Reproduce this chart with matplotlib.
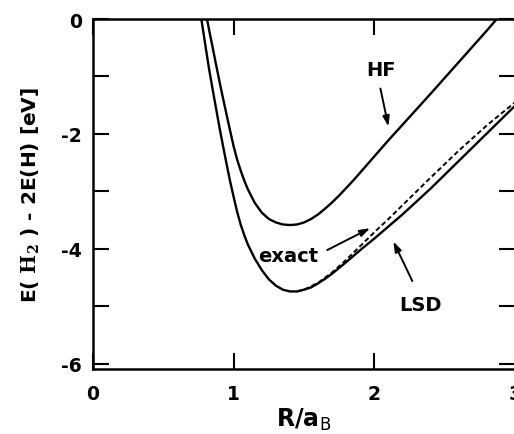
import matplotlib
matplotlib.use("Agg")
from matplotlib import pyplot as plt
import numpy as np

plt.rcParams['mathtext.fontset'] = 'custom'
plt.rcParams['mathtext.rm'] = 'DejaVu Sans'
plt.rcParams['mathtext.bf'] = 'DejaVu Serif:bold'

# HF curve
r_hf = [0.81, 0.83, 0.85, 0.875, 0.90, 0.925, 0.95, 0.975, 1.00, 1.025, 1.05, 1.075,
        1.10, 1.15, 1.20, 1.25, 1.30, 1.35, 1.40, 1.45, 1.50, 1.55, 1.60, 1.65,
        1.70, 1.75, 1.80, 1.85, 1.90, 2.00, 2.10, 2.20, 2.40, 2.60, 2.80, 2.87]
e_hf = [0.0, -0.25, -0.49, -0.80, -1.10, -1.39, -1.67, -1.95, -2.22, -2.45, -2.64, -2.81,
        -2.96, -3.20, -3.37, -3.48, -3.54, -3.575, -3.585, -3.575, -3.54, -3.48, -3.40, -3.30,
        -3.19, -3.07, -2.94, -2.81, -2.67, -2.39, -2.11, -1.84, -1.30, -0.75, -0.20, 0.0]

# LSD (solid lower curve)
r_lsd = [0.77, 0.80, 0.825, 0.85, 0.875, 0.90, 0.925, 0.95, 0.975, 1.00, 1.025, 1.05,
         1.075, 1.10, 1.15, 1.20, 1.25, 1.30, 1.35, 1.40, 1.45, 1.50, 1.55, 1.60,
         1.65, 1.70, 1.75, 1.80, 1.90, 2.00, 2.10, 2.20, 2.40, 2.60, 2.80, 3.00]
e_lsd = [0.0, -0.48, -0.87, -1.22, -1.56, -1.90, -2.22, -2.53, -2.83, -3.10, -3.36, -3.58,
         -3.76, -3.92, -4.17, -4.37, -4.53, -4.64, -4.71, -4.74, -4.74, -4.71, -4.67, -4.60,
         -4.52, -4.43, -4.33, -4.23, -4.02, -3.82, -3.61, -3.40, -2.95, -2.47, -1.99, -1.51]

# exact (dashed)
r_ex = [1.45, 1.50, 1.60, 1.70, 1.80, 1.90, 2.00, 2.10, 2.20, 2.40, 2.60, 2.80, 3.00]
e_ex = [-4.74, -4.71, -4.59, -4.41, -4.19, -3.95, -3.71, -3.48, -3.24, -2.76, -2.29, -1.85, -1.45]

fig = plt.figure(figsize=(5.14, 4.35), dpi=100)
ax = fig.add_axes([0.181, 0.1494, 0.821, 0.8046])

ax.plot(r_hf, e_hf, color='black', lw=1.7, solid_joinstyle='round')
ax.plot(r_lsd, e_lsd, color='black', lw=1.7, solid_joinstyle='round')
ax.plot(r_ex, e_ex, color='black', lw=1.4, linestyle=(0, (2.5, 1.5)))

ax.set_xlim(0, 3)
ax.set_ylim(-6.09, 0)

ax.set_xticks([0, 1, 2, 3])
ax.set_xticklabels(['0', '1', '2', '3'])
ax.set_yticks([0, -2, -4, -6])
ax.set_yticklabels(['0', '-2', '-4', '-6'])
ax.set_yticks([-1, -3, -5], minor=True)

ax.tick_params(axis='both', which='both', direction='in', length=11.5, width=1.5,
               top=True, right=True, labelsize=13.5)
ax.tick_params(axis='x', pad=11)
ax.tick_params(axis='y', pad=8)
for lab in ax.get_xticklabels() + ax.get_yticklabels():
    lab.set_fontweight('bold')
for s in ax.spines.values():
    s.set_linewidth(1.8)

ax.set_xlabel(r'R/a$_{\rm B}$', fontsize=17, fontweight='bold', labelpad=2)
ax.set_ylabel(r'E( $\mathbf{H_2}$ ) - 2E(H) [eV]', fontsize=14.5, fontweight='bold', labelpad=14)

arrow = dict(arrowstyle='-|>,head_length=0.6,head_width=0.2', color='black', lw=1.4,
             shrinkA=0, shrinkB=0)
ax.text(2.05, -0.87, 'HF', fontsize=14, fontweight='bold', ha='center', va='center')
ax.annotate('', xy=(2.10, -1.87), xytext=(2.043, -1.21), arrowprops=arrow)
ax.text(1.39, -4.12, 'exact', fontsize=14, fontweight='bold', ha='center', va='center')
ax.annotate('', xy=(1.97, -3.64), xytext=(1.665, -4.02), arrowprops=arrow)
ax.text(2.33, -4.97, 'LSD', fontsize=14, fontweight='bold', ha='center', va='center')
ax.annotate('', xy=(2.135, -3.87), xytext=(2.27, -4.56), arrowprops=arrow)

fig.savefig('out.png', dpi=100)
